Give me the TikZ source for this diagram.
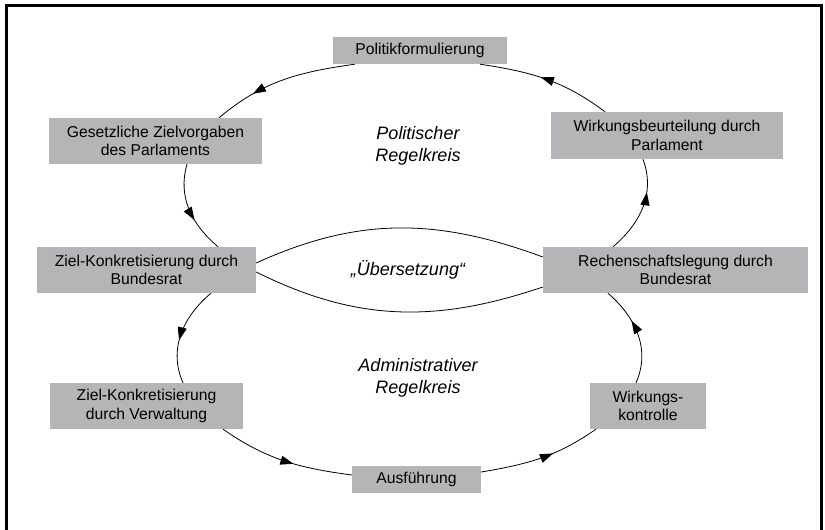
\documentclass[tikz,border=0pt]{standalone}
\usepackage{fontspec}
\setmainfont{Liberation Sans}
\usetikzlibrary{arrows.meta,decorations.markings}
\definecolor{boxgray}{RGB}{181,181,184}

\begin{document}
\begin{tikzpicture}[x=1pt, y=1pt,
    stage/.style={fill=boxgray, inner sep=0pt, align=center, font=\fontsize{15.7}{18.4}\selectfont},
    loopname/.style={align=center, font=\fontsize{18}{22}\selectfont\itshape},
    lens/.style={line width=0.8pt},
    flow/.style={lens, postaction={decorate}, decoration={markings,
        mark=at position #1 with {\arrow{Triangle[length=13pt,width=9pt]}}}},
    flow/.default=0.58]
    \useasboundingbox (0,0) rectangle (825,530);
    % frame
    \draw[line width=3pt] (6,-5) -- (6,524) -- (821.5,524) -- (821.5,-5);

    % political loop
    \node[stage, minimum width=174pt, minimum height=27pt] (polit) at (420,479.5) {Politikformulierung};
    \node[stage, minimum width=213pt, minimum height=46pt] (gesetz) at (155.5,389) {Gesetzliche Zielvorgaben\\des Parlaments};
    \node[stage, minimum width=232pt, minimum height=47pt] (wirkbeur) at (667,394.5) {Wirkungsbeurteilung durch\\Parlament};
    \node[loopname] (polkreis) at (418,384) {Politischer\\Regelkreis};

    % link between the loops
    \node[stage, minimum width=219pt, minimum height=46pt] (zielbr) at (146.5,260) {Ziel-Konkretisierung durch\\Bundesrat};
    \node[stage, minimum width=265pt, minimum height=46pt] (rechen) at (675.5,260) {Rechenschaftslegung durch\\Bundesrat};
    \node[loopname] (uebers) at (408,260) {„Übersetzung“};

    % administrative loop
    \node[stage, minimum width=193pt, minimum height=46pt] (zielverw) at (146.5,124) {Ziel-Konkretisierung\\durch Verwaltung};
    \node[stage, minimum width=116pt, minimum height=46pt] (wirkkontr) at (648,124) {Wirkungs-\\kontrolle};
    \node[stage, minimum width=129pt, minimum height=27pt] (ausf) at (416.5,50.5) {Ausführung};
    \node[loopname] (admkreis) at (418,152.5) {Administrativer\\Regelkreis};

    % upper cycle
    \draw[flow=0.72] ([xshift=22pt]polit.south west) to[out=188, in=40] ([xshift=63.5pt]gesetz.north);
    \draw[flow=0.62] ([xshift=31.5pt]gesetz.south) to[out=254, in=139.5] ([xshift=71.5pt]zielbr.north);
    \draw[flow=0.66] ([xshift=-62.5pt]rechen.north) to[out=40.4, in=290.3] ([xshift=-24pt]wirkbeur.south);
    \draw[flow=0.54] ([xshift=-62pt]wirkbeur.north) to[out=143.1, in=351.4] ([xshift=60pt]polit.south);

    % lens
    \draw[lens] ([yshift=7pt]zielbr.east) to[out=24.5, in=159.7] ([yshift=13pt]rechen.west);
    \draw[lens] ([yshift=-2pt]zielbr.east) to[out=-26.5, in=198.7] ([yshift=-17pt]rechen.west);

    % lower cycle
    \draw[flow=0.57] ([xshift=64.5pt]zielbr.south) to[out=219.9, in=113.9] ([xshift=36.5pt]zielverw.north);
    \draw[flow=0.57] ([xshift=76.5pt]zielverw.south) to[out=-34.8, in=172.4] ([yshift=4.5pt]ausf.west);
    \draw[flow=0.6] ([yshift=7.5pt]ausf.east) to[out=9.5, in=214.7] ([xshift=-52pt]wirkkontr.south);
    \draw[flow=0.64] ([xshift=-12pt]wirkkontr.north) to[out=66, in=319] ([xshift=-67.5pt]rechen.south);
\end{tikzpicture}
\end{document}
